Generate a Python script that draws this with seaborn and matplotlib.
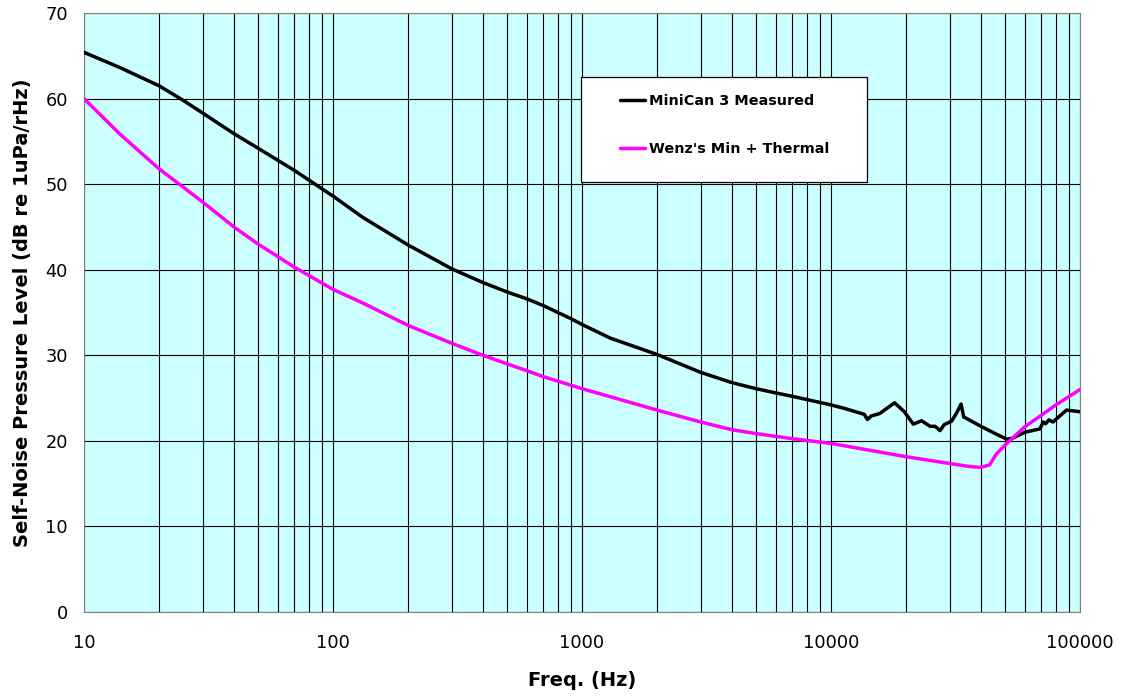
import numpy as np
import pandas as pd
import matplotlib
matplotlib.use("Agg")
import matplotlib.pyplot as plt
import seaborn as sns
from matplotlib.ticker import LogLocator, NullFormatter
from matplotlib.patches import Rectangle

# ---- data ----
meas_freq = [10, 14, 20, 25, 30, 40, 50, 70, 100, 132, 200, 300, 400, 500, 600,
             700, 800, 900, 1000, 1300, 1560, 2000, 3000, 4000, 5000, 6000, 7000,
             9000, 10000, 11300, 13600, 14000, 14500, 15700, 18000, 19700, 21400,
             23100, 25000, 26200, 27400, 28500, 30500, 32000, 33300, 34100, 40000,
             46000, 50800, 53500, 60000, 69000, 71200, 72800, 75000, 77800, 88300,
             100000]
meas_db = [65.4, 63.6, 61.5, 59.8, 58.3, 55.9, 54.2, 51.6, 48.6, 46.1, 42.9, 40.1,
           38.5, 37.4, 36.6, 35.8, 35.0, 34.3, 33.6, 32.0, 31.2, 30.1, 28.0, 26.8,
           26.1, 25.6, 25.2, 24.5, 24.2, 23.8, 23.1, 22.5, 22.9, 23.2, 24.45, 23.4,
           21.95, 22.35, 21.7, 21.7, 21.2, 21.9, 22.3, 23.3, 24.3, 22.8, 21.7, 20.8,
           20.2, 20.3, 21.0, 21.4, 22.2, 22.0, 22.45, 22.2, 23.6, 23.4]

wenz_freq = [10, 14, 20, 30, 40, 50, 70, 100, 132, 200, 300, 400, 500, 600, 700, 1000,
             2000, 3000, 4000, 5000, 7000, 10000, 20000, 30000, 36000, 40000, 43400,
             46000, 50000, 60000, 70000, 80000, 100000]
wenz_db = [60.0, 55.8, 51.8, 47.9, 45.0, 43.0, 40.3, 37.7, 36.1, 33.5, 31.4, 30.0, 29.0,
           28.2, 27.5, 26.1, 23.6, 22.2, 21.3, 20.85, 20.25, 19.7, 18.15, 17.35, 17.0,
           16.9, 17.2, 18.4, 19.5, 21.65, 23.0, 24.2, 26.0]

series_names = ["MiniCan 3 Measured", "Wenz's Min + Thermal"]
series_colors = ["#000000", "#FF00FF"]
x_ticks = [10, 100, 1000, 10000, 100000]
y_ticks = [0, 10, 20, 30, 40, 50, 60, 70]
x_label = "Freq. (Hz)"
y_label = "Self-Noise Pressure Level (dB re 1uPa/rHz)"

df = pd.concat([
    pd.DataFrame({"freq": meas_freq, "db": meas_db, "series": series_names[0]}),
    pd.DataFrame({"freq": wenz_freq, "db": wenz_db, "series": series_names[1]}),
], ignore_index=True)

sns.set_theme(style="white")
plt.rcParams["font.family"] = ["DejaVu Sans"]
plt.rcParams["text.color"] = "black"
plt.rcParams["axes.labelcolor"] = "black"

W, H = 1121, 696
fig = plt.figure(figsize=(W / 100, H / 100), dpi=100)
fig.patch.set_facecolor("white")
ax = fig.add_axes([84 / W, 1 - 612 / H, 996 / W, 599 / H])
ax.set_facecolor("#CCFFFF")

sns.lineplot(data=df, x="freq", y="db", hue="series", hue_order=series_names,
             palette=series_colors, linewidth=2.5, sort=False, ax=ax, zorder=3)
for ln in ax.get_lines():
    ln.set_solid_joinstyle("round")

ax.set_xscale("log")
ax.set_xlim(x_ticks[0], x_ticks[-1])
ax.set_ylim(y_ticks[0], y_ticks[-1])
ax.set_xticks(x_ticks, labels=[str(v) for v in x_ticks])
ax.set_yticks(y_ticks, labels=[str(v) for v in y_ticks])
ax.xaxis.set_minor_locator(LogLocator(base=10, subs=range(2, 10), numticks=20))
ax.xaxis.set_minor_formatter(NullFormatter())

ax.set_axisbelow(True)
ax.grid(True, which="both", axis="x", color="black", linewidth=0.8)
ax.grid(True, which="major", axis="y", color="black", linewidth=0.8)

ax.tick_params(axis="both", which="major", direction="out", length=4.5, width=0.8,
               color="#808080", labelsize=12.8, labelcolor="black")
ax.tick_params(axis="x", which="major", pad=11.5)
ax.tick_params(axis="y", which="major", pad=7)
ax.tick_params(axis="x", which="minor", length=0)

for s in ax.spines.values():
    s.set_visible(True)
    s.set_color("#808080")
    s.set_linewidth(0.8)

ax.set_xlabel(x_label, fontsize=14, fontweight="bold", color="black")
ax.set_ylabel(y_label, fontsize=14, fontweight="bold", color="black")
ax.xaxis.set_label_coords(0.5, -0.0985)
ax.yaxis.set_label_coords(-0.052, 0.5)

# legend
handles, labels = ax.get_legend_handles_labels()
if ax.get_legend() is not None:
    ax.get_legend().remove()
box = Rectangle((0.499, 0.718), 0.287, 0.175, transform=ax.transAxes,
                facecolor="white", edgecolor="black", linewidth=0.9, zorder=5)
ax.add_patch(box)
leg = ax.legend(handles, labels, loc="upper left", bbox_to_anchor=(0.538, 0.865),
                frameon=False, borderpad=0, borderaxespad=0,
                prop={"size": 10.4, "weight": "bold"},
                handlelength=1.75, handletextpad=0.3, labelspacing=2.35)
leg.set_zorder(6)
for lh in leg.get_lines():
    lh.set_linewidth(2.5)
for t in leg.get_texts():
    t.set_color("black")

fig.savefig("out.png", dpi=100)
